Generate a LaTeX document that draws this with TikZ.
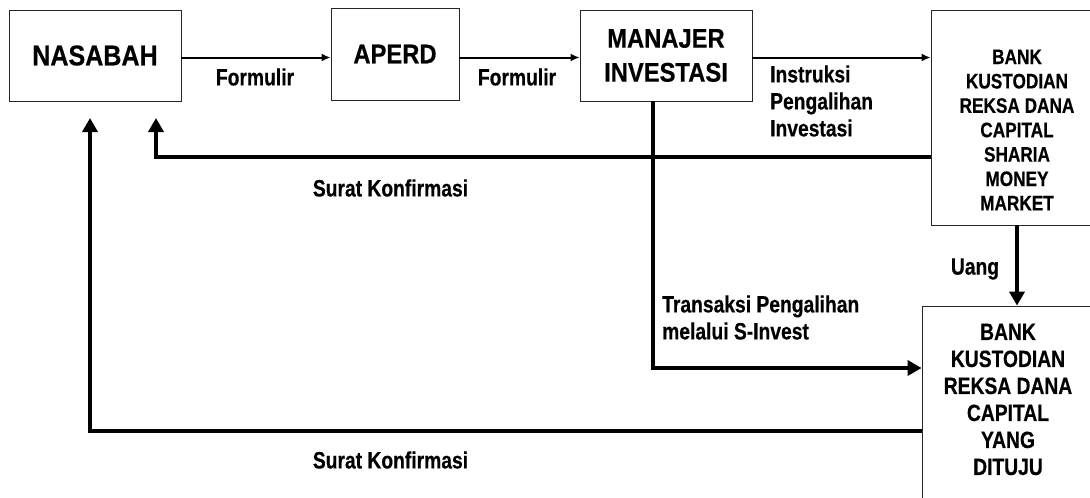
\documentclass[tikz,border=0pt]{standalone}
\usepackage{fontspec}
\setmainfont{Liberation Sans}
\newfontfamily\narrowfont{Liberation Sans}[FakeStretch=0.82,FakeBold=0.5]
\newfontfamily\headfont{Liberation Sans}[FakeStretch=0.88,FakeBold=0.5]
\usetikzlibrary{arrows.meta}

\tikzset{
  kotak/.style={draw=black!85, line width=0.8pt, inner sep=0pt, align=center,
    font=\headfont\fontsize{27}{34}\selectfont\bfseries},
  teks/.style={inner sep=0pt, font=\narrowfont\fontsize{23.5}{27}\selectfont\bfseries},
  tipis/.style={line width=2pt, -{Latex[length=9pt,width=8pt]}},
  tebal/.style={line width=4pt, -{Triangle[length=14pt,width=15pt]}},
}

\begin{document}
\begin{tikzpicture}[x=1pt,y=-1pt]
  \useasboundingbox (0,0) rectangle (1090,498);
  \clip (0,0) rectangle (1090,498);

  % Kotak
  \node[kotak, minimum width=172pt, minimum height=91pt,
    font=\headfont\fontsize{28.5}{34}\selectfont\bfseries] (nasabah) at (95,55.5) {NASABAH};
  \node[kotak, minimum width=128pt, minimum height=92pt] (aperd) at (395,54) {APERD};
  \node[kotak, minimum width=172pt, minimum height=91pt] (manajer) at (666,55.5) {MANAJER\\INVESTASI};
  \node[kotak, minimum width=172pt, minimum height=215pt] (bank1) at (1017,117.5) {};
  \node[teks, align=center, font=\narrowfont\fontsize{21}{24.4}\selectfont\bfseries]
    (bank1txt) at (1017,130) {BANK\\KUSTODIAN\\REKSA DANA\\CAPITAL\\SHARIA\\MONEY\\MARKET};
  \node[kotak, minimum width=172pt, minimum height=230pt] (bank2) at (1008,421) {};
  \node[teks, align=center] (bank2txt) at (1008,399.5) {BANK\\KUSTODIAN\\REKSA DANA\\CAPITAL\\YANG\\DITUJU};

  % Label
  \node[teks] (form1) at (255,77) {Formulir};
  \node[teks] (form2) at (517,77) {Formulir};
  \node[teks, align=left, anchor=west] (instr) at (770,101) {Instruksi\\Pengalihan\\Investasi};
  \node[teks] (surat1) at (390.5,188) {Surat Konfirmasi};
  \node[teks] (uang) at (975,269) {Uang};
  \node[teks, align=left, anchor=west] (trans) at (662,317.5) {Transaksi Pengalihan\\melalui S-Invest};
  \node[teks] (surat2) at (390.5,460) {Surat Konfirmasi};

  % Titik bantu
  \coordinate (r1) at (0,57.5);
  \coordinate (r2) at (0,157);
  \coordinate (r3) at (0,368);
  \coordinate (r4) at (0,431);
  \coordinate (ujungA) at (90,118);
  \coordinate (ujungB) at (156,118);
  \coordinate (turunMI) at (653,101);

  % Panah
  \draw[tipis] (nasabah.east |- r1) -- (aperd.west |- r1);
  \draw[tipis] (aperd.east |- r1) -- (manajer.west |- r1);
  \draw[tipis] (manajer.east |- r1) -- (bank1.west |- r1);
  \draw[tebal] (bank1.west |- r2) -| (ujungB);
  \draw[tebal] (turunMI) |- (bank2.west |- r3);
  \draw[tebal] (bank1.south) -- (bank1.south |- bank2.north);
  \draw[tebal] (bank2.west |- r4) -| (ujungA);
\end{tikzpicture}
\end{document}
